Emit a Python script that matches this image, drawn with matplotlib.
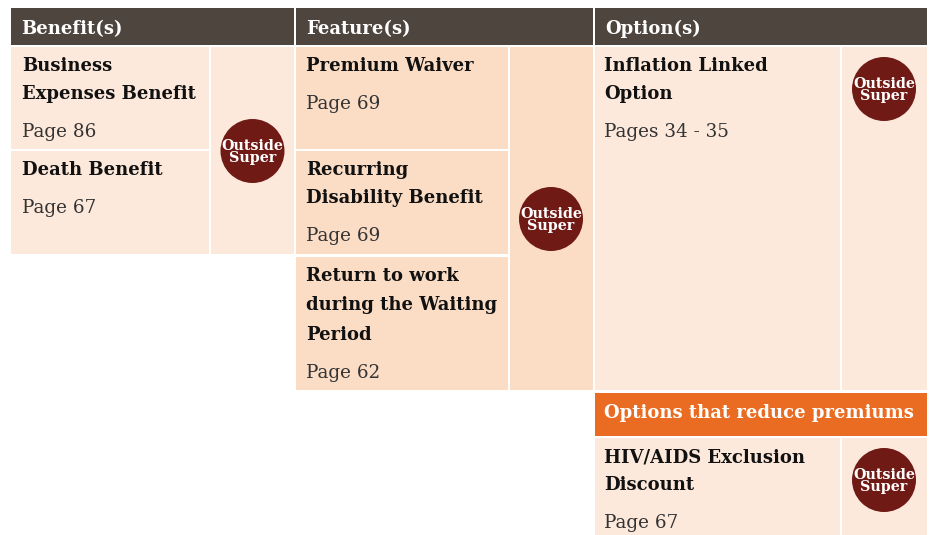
import matplotlib
matplotlib.use("Agg")
import matplotlib.pyplot as plt
from matplotlib.patches import Rectangle, Circle

# Text content of the table
headers = ["Benefit(s)", "Feature(s)", "Option(s)"]
benefits = ["Business\nExpenses Benefit", "Death Benefit"]
benefit_pages = ["Page 86", "Page 67"]
features = ["Premium Waiver", "Recurring\nDisability Benefit", "Return to work\nduring the Waiting\nPeriod"]
feature_pages = ["Page 69", "Page 69", "Page 62"]
options = ["Inflation Linked\nOption"]
option_pages = ["Pages 34 - 35"]
discount_header = "Options that reduce premiums"
discounts = ["HIV/AIDS Exclusion\nDiscount"]
discount_pages = ["Page 67"]
badge_text = "Outside\nSuper"

DARK = "#4f453f"
LIGHT = "#fde9dc"
MID = "#fbdcc5"
ORANGE = "#ea6c22"
MAROON = "#701a15"
FONT = "DejaVu Serif"

fig = plt.figure(figsize=(9.31, 5.35), dpi=100)
ax = fig.add_axes([0, 0, 1, 1])
ax.set_xlim(0, 931)
ax.set_ylim(535, 0)
ax.axis("off")


def box(x0, x1, y0, y1, color):
    ax.add_patch(Rectangle((x0, y0), x1 - x0, y1 - y0, color=color, lw=0, clip_on=False))


def badge(x, y):
    ax.add_patch(Circle((x, y), 32, color=MAROON, lw=0))
    ax.text(x, y + 1, badge_text, color="white", fontsize=10.3, fontweight="bold", family=FONT,
            ha="center", va="center", linespacing=0.8)


def entry(x, y, title, page, line=28.3, gap=38):
    # title lines first, page label sits below the last line
    lines = title.split("\n")
    for i, s in enumerate(lines):
        ax.text(x, y + i * line, s, color="#111111", fontsize=12.95, fontweight="bold", family=FONT,
                va="baseline")
    ax.text(x, y + (len(lines) - 1) * line + gap, page, color="#333333", fontsize=13.2, family=FONT,
            va="baseline")


# header bars
for label, x0, x1 in zip(headers, [11, 296, 595], [294, 593, 927]):
    box(x0, x1, 8, 45, DARK)
    ax.text(x0 + 10, 34, label, color="white", fontsize=12.95, fontweight="bold", family=FONT, va="baseline")

# benefits column
box(11, 209, 47, 149, LIGHT)
box(11, 209, 151, 254, LIGHT)
box(211, 294, 47, 254, LIGHT)
badge(252.5, 151)
for title, page, y in zip(benefits, benefit_pages, [71, 175]):
    entry(22, y, title, page)

# features column
box(296, 508, 47, 149, MID)
box(296, 508, 151, 254, MID)
box(296, 508, 257, 390, MID)
box(510, 593, 47, 390, MID)
badge(551, 219)
for title, page, y in zip(features, feature_pages, [71, 175, 281]):
    entry(306, y, title, page, line=29.3 if title.count("\n") == 2 else 28.3)

# options column
box(595, 840, 47, 390, LIGHT)
box(842, 927, 47, 390, LIGHT)
badge(884, 89)
entry(604.5, 71, options[0], option_pages[0])

# discount block
box(595, 927, 393, 436, ORANGE)
ax.text(604.5, 418, discount_header, color="white", fontsize=12.95, fontweight="bold", family=FONT, va="baseline")
box(595, 840, 438, 535, LIGHT)
box(842, 927, 438, 535, LIGHT)
badge(884, 480)
entry(604.5, 462, discounts[0], discount_pages[0])

fig.savefig("out.png", dpi=100, facecolor="white")
